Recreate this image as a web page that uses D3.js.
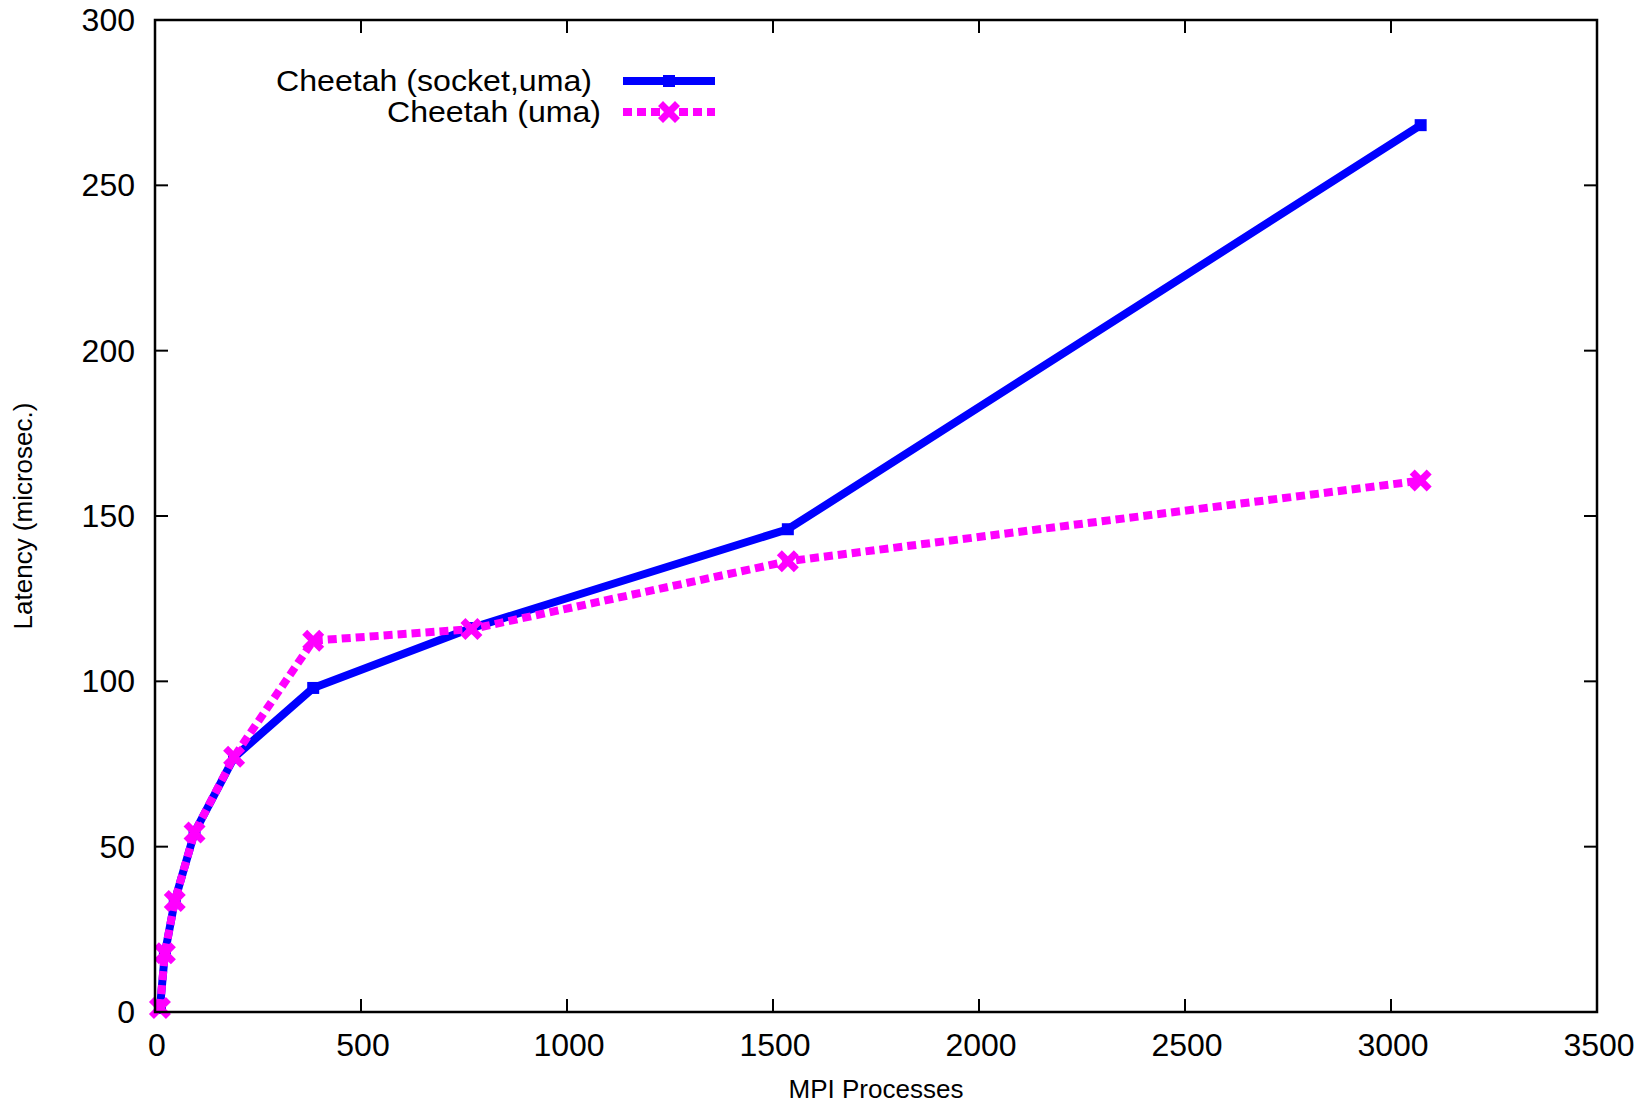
<!DOCTYPE html>
<html>
<head>
<meta charset="utf-8">
<script src="https://cdn.jsdelivr.net/npm/d3@7"></script>
<style>
  body { margin: 0; background: #fff; }
  text { font-family: 'Liberation Sans', Arial, sans-serif; fill: #000; }
</style>
</head>
<body>
<div id="chart"></div>
<script>
const processes = [12, 24, 48, 96, 192, 384, 768, 1536, 3072];
const socketUma = [1.2, 17.8, 33.6, 54.3, 77.0, 98.0, 116.1, 146.0, 268.2];
const uma = [1.2, 17.8, 33.6, 54.3, 77.2, 112.3, 115.8, 136.3, 160.7];
const xTicks = [0, 500, 1000, 1500, 2000, 2500, 3000, 3500];
const yTicks = [0, 50, 100, 150, 200, 250, 300];
const seriesNames = ['Cheetah (socket,uma)', 'Cheetah (uma)'];

const w = 1650;
const h = 1105;
const plotLeft = 155;
const plotRight = 1597;
const plotTop = 20;
const plotBottom = 1012;
const tick = 13;

const svg = d3.select('#chart').append('svg').attr('width', w).attr('height', h);

const scaleX = d3.scaleLinear().domain([0, 3500]).range([plotLeft, plotRight]);
const scaleY = d3.scaleLinear().domain([0, 300]).range([plotBottom, plotTop]);

// ticks, inward and mirrored
const g = svg.append('g').attr('stroke', '#000').attr('stroke-width', 2);
xTicks.forEach((t) => {
  g.append('line').attr('x1', scaleX(t)).attr('x2', scaleX(t)).attr('y1', plotBottom).attr('y2', plotBottom - tick);
  g.append('line').attr('x1', scaleX(t)).attr('x2', scaleX(t)).attr('y1', plotTop).attr('y2', plotTop + tick);
});
yTicks.forEach((t) => {
  g.append('line').attr('x1', plotLeft).attr('x2', plotLeft + tick).attr('y1', scaleY(t)).attr('y2', scaleY(t));
  g.append('line').attr('x1', plotRight).attr('x2', plotRight - tick).attr('y1', scaleY(t)).attr('y2', scaleY(t));
});

svg.selectAll('.xl').data(xTicks).enter().append('text')
  .attr('x', (d) => scaleX(d) + 2).attr('y', 1056)
  .attr('text-anchor', 'middle').attr('font-size', 32).text((d) => d);
svg.selectAll('.yl').data(yTicks).enter().append('text')
  .attr('x', 135).attr('y', (d) => scaleY(d) + 11)
  .attr('text-anchor', 'end').attr('font-size', 32).text((d) => d);

svg.append('text').attr('x', 876).attr('y', 1098).attr('text-anchor', 'middle')
  .attr('font-size', 26).text('MPI Processes');
svg.append('text').attr('transform', 'translate(32,516) rotate(-90)').attr('text-anchor', 'middle')
  .attr('font-size', 26).text('Latency (microsec.)');

const line = d3.line().x((d) => scaleX(d[0])).y((d) => scaleY(d[1]));
const blueData = processes.map((p, i) => [p, socketUma[i]]);
const pinkData = processes.map((p, i) => [p, uma[i]]);

const squarePath = 'M-6,-6H6V6H-6Z';
const crossPath = 'M-11,-6L-6,-11L0,-5L6,-11L11,-6L5,0L11,6L6,11L0,5L-6,11L-11,6L-5,0Z';

svg.append('path').datum(blueData).attr('d', line)
  .attr('fill', 'none').attr('stroke', '#0000ff').attr('stroke-width', 8).attr('stroke-linejoin', 'round');
svg.selectAll('.bm').data(blueData).enter().append('path')
  .attr('d', squarePath).attr('fill', '#0000ff')
  .attr('transform', (d) => `translate(${scaleX(d[0])},${scaleY(d[1])})`);

svg.append('path').datum(pinkData).attr('d', line)
  .attr('fill', 'none').attr('stroke', '#ff00ff').attr('stroke-width', 8)
  .attr('stroke-dasharray', '9,5');
svg.selectAll('.pm').data(pinkData).enter().append('path')
  .attr('d', crossPath).attr('fill', '#ff00ff')
  .attr('transform', (d) => `translate(${scaleX(d[0])},${scaleY(d[1])})`);

// legend
const leg = svg.append('g');
leg.append('text').attr('x', 592).attr('y', 91).attr('text-anchor', 'end').attr('font-size', 30)
  .attr('textLength', 316).attr('lengthAdjust', 'spacingAndGlyphs').text(seriesNames[0]);
leg.append('text').attr('x', 601).attr('y', 122).attr('text-anchor', 'end').attr('font-size', 30)
  .attr('textLength', 214).attr('lengthAdjust', 'spacingAndGlyphs').text(seriesNames[1]);
leg.append('line').attr('x1', 623).attr('x2', 715).attr('y1', 81).attr('y2', 81)
  .attr('stroke', '#0000ff').attr('stroke-width', 8);
leg.append('path').attr('d', squarePath).attr('fill', '#0000ff').attr('transform', 'translate(669,81)');
leg.append('line').attr('x1', 623).attr('x2', 715).attr('y1', 112).attr('y2', 112)
  .attr('stroke', '#ff00ff').attr('stroke-width', 8).attr('stroke-dasharray', '9,5');
leg.append('path').attr('d', crossPath).attr('fill', '#ff00ff').attr('transform', 'translate(669,112)');

// frame
svg.append('rect').attr('x', plotLeft).attr('y', plotTop).attr('width', plotRight - plotLeft).attr('height', plotBottom - plotTop)
  .attr('fill', 'none').attr('stroke', '#000').attr('stroke-width', 2.5);
</script>
</body>
</html>
